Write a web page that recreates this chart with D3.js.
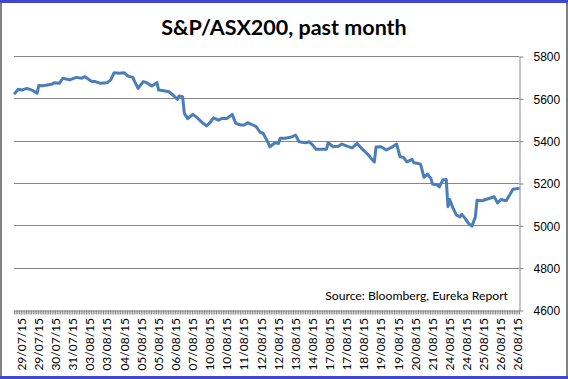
<!DOCTYPE html>
<html>
<head>
<meta charset="utf-8">
<script src="https://cdn.jsdelivr.net/npm/d3@7"></script>
<style>
  body { margin: 0; background: #fff; }
  svg { display: block; font-family: Lato, "Liberation Sans", sans-serif; }
  .grid line { stroke: #868686; stroke-width: 1; shape-rendering: crispEdges; }
  .axis path, .axis line { stroke: #868686; }
  .axis text { fill: #000; font-size: 12px; }
</style>
</head>
<body>
<svg id="chart"></svg>
<script>
// Index level, sampled off the chart: [session index, level]
const sessionCount = 295;
const levels = [
  [0,5624],[2,5643],[4,5639],[7,5647],[10,5639],[13,5624],[14,5661],[17,5660],[19,5663],
  [22,5668],[23,5674],[26,5671],[28,5695],[32,5687],[36,5699],[39,5695],[41,5702],[43,5690],
  [45,5679],[47,5679],[50,5671],[54,5674],[56,5687],[58,5721],[61,5718],[64,5721],[66,5705],
  [69,5699],[70,5679],[72,5647],[75,5679],[77,5674],[80,5658],[83,5674],[84,5639],[87,5636],
  [90,5631],[93,5611],[95,5595],[96,5611],[98,5608],[99,5529],[101,5504],[104,5524],[107,5505],
  [109,5489],[112,5470],[114,5485],[116,5508],[119,5497],[121,5505],[124,5505],[127,5524],
  [129,5482],[132,5474],[134,5474],[136,5485],[139,5474],[141,5466],[143,5442],[145,5435],
  [147,5406],[149,5371],[152,5390],[154,5387],[155,5411],[158,5411],[161,5416],[164,5426],
  [166,5395],[170,5390],[172,5395],[174,5379],[176,5359],[179,5359],[182,5359],[183,5390],
  [186,5371],[189,5374],[191,5384],[194,5374],[197,5366],[200,5387],[203,5360],[206,5337],
  [209,5308],[210,5300],[211,5370],[214,5371],[217,5356],[220,5368],[223,5384],[225,5324],
  [227,5321],[229,5300],[232,5312],[233,5296],[235,5293],[237,5289],[239,5227],[241,5242],
  [243,5222],[244,5195],[247,5190],[248,5182],[250,5214],[252,5217],[253,5088],[254,5122],
  [256,5080],[258,5048],[260,5040],[261,5052],[263,5033],[265,5009],[267,4996],[269,5040],
  [270,5119],[273,5116],[275,5122],[277,5127],[280,5135],[282,5106],[284,5122],[287,5116],
  [289,5143],[291,5170],[294,5174]
];

// Date labels, one every 10 sessions starting at session 4
const dateLabels = [
  "29/07/15","29/07/15","30/07/15","31/07/15","03/08/15","03/08/15","04/08/15","05/08/15",
  "05/08/15","06/08/15","07/08/15","10/08/15","10/08/15","11/08/15","12/08/15","12/08/15",
  "13/08/15","14/08/15","17/08/15","17/08/15","18/08/15","19/08/15","19/08/15","20/08/15",
  "21/08/15","24/08/15","24/08/15","25/08/15","26/08/15","26/08/15"
];
const labelStart = 4, labelStep = 10;
const yTicks = [4600, 4800, 5000, 5200, 5400, 5600, 5800];

const title = "S&P/ASX200, past month";
const source = "Source: Bloomberg, Eureka Report";

const config = {
  width: 568,
  height: 379,
  plot: {left: 14, right: 519, top: 56, bottom: 310}
};

const svg = d3.select('#chart')
    .attr('width', config.width)
    .attr('height', config.height);

// Frame: blue bars top and bottom, grey sides
svg.append('rect').attr('x', 0).attr('y', 0).attr('width', config.width).attr('height', 3).attr('fill', '#3f47cc');
svg.append('rect').attr('x', 0).attr('y', 376).attr('width', config.width).attr('height', 3).attr('fill', '#3f47cc');
svg.append('rect').attr('x', 0).attr('y', 3).attr('width', 2).attr('height', 373).attr('fill', '#808080');
svg.append('rect').attr('x', 566).attr('y', 3).attr('width', 2).attr('height', 373).attr('fill', '#808080');

const p = config.plot;

const xScale = d3.scaleBand()
    .domain(d3.range(sessionCount))
    .range([p.left, p.right]);

const xEdge = d3.scaleLinear()
    .domain([0, sessionCount])
    .range([p.left, p.right]);

const yScale = d3.scaleLinear()
    .domain([4600, 5800])
    .range([p.bottom, p.top]);

const xMid = i => xScale(i) + xScale.bandwidth() / 2;

// Horizontal gridlines
svg.append('g')
    .attr('class', 'grid')
    .selectAll('line')
    .data(yTicks.filter(d => d > 4600))
  .join('line')
    .attr('x1', p.left)
    .attr('x2', p.right)
    .attr('y1', d => Math.round(yScale(d)) + 0.5)
    .attr('y2', d => Math.round(yScale(d)) + 0.5);

// Right value axis
const yAxisG = svg.append('g')
    .attr('class', 'axis y-axis')
    .attr('transform', `translate(${p.right + 0.5},0.5)`)
    .call(d3.axisRight(yScale)
      .tickValues(yTicks)
      .tickFormat(d3.format('d')) // no thousands comma
      .tickSize(4)
      .tickPadding(10)
      .tickSizeOuter(0));
yAxisG.selectAll('text').attr('dy', '0.35em');

// Bottom category axis: a tick between every session
svg.append('g')
    .attr('class', 'axis x-axis')
    .attr('transform', `translate(0,${p.bottom + 0.5})`)
    .call(d3.axisBottom(xEdge).tickValues(d3.range(sessionCount + 1)).tickSize(4).tickSizeOuter(0).tickFormat(''));

// Rotated date labels
svg.append('g')
    .selectAll('text')
    .data(dateLabels)
  .join('text')
    .attr('transform', (d, k) => `translate(${xMid(labelStart + k * labelStep)},318) rotate(-90)`)
    .attr('text-anchor', 'end')
    .attr('dy', '0.35em')
    .attr('font-size', 12)
    .text(d => d);

// Price line
const line = d3.line()
    .x(d => xMid(d[0]))
    .y(d => yScale(d[1]));

svg.append('path')
    .datum(levels)
    .attr('fill', 'none')
    .attr('stroke', '#4a7ebb')
    .attr('stroke-width', 3)
    .attr('stroke-linejoin', 'round')
    .attr('stroke-linecap', 'round')
    .attr('d', line);

// Title and source
svg.append('text')
    .attr('x', 284)
    .attr('y', 35)
    .attr('text-anchor', 'middle')
    .attr('font-size', 21.5)
    .attr('font-weight', 'bold')
    .text(title);

svg.append('text')
    .attr('x', 508)
    .attr('y', 300)
    .attr('text-anchor', 'end')
    .attr('font-size', 12.2)
    .text(source);
</script>
</body>
</html>
